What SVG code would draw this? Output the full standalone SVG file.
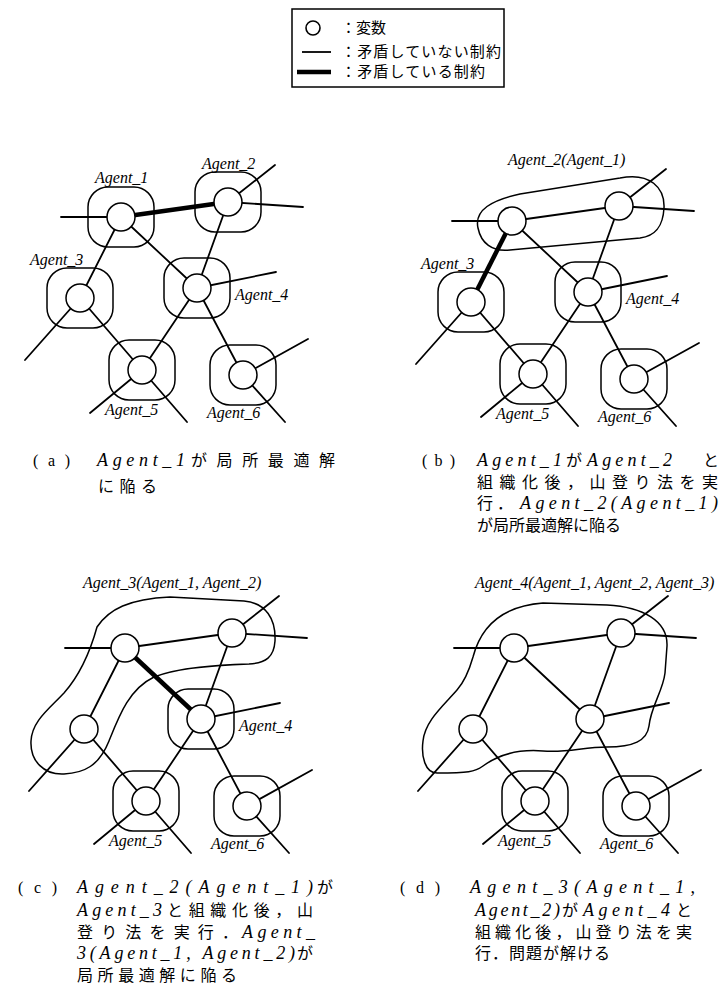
<svg xmlns="http://www.w3.org/2000/svg" width="721" height="1003" viewBox="0 0 721 1003">
<style>
.edge{stroke:#000;stroke-width:1.8;fill:none;stroke-linecap:round}
.conflict{stroke:#000;stroke-width:4.5;fill:none}
.var{fill:#fff;stroke:#000;stroke-width:1.5}
.agent{fill:none;stroke:#000;stroke-width:1.5}
.blob{fill:none;stroke:#000;stroke-width:1.5}
.lbl{font-family:"Liberation Serif",serif;font-style:italic;font-size:16px;fill:#000}
.jp{font-family:"Liberation Serif","Noto Sans CJK JP",sans-serif;font-size:16px;fill:#000}
.lat{font-family:"Liberation Serif",serif;font-style:italic;font-size:18px;fill:#000}
.leg{font-family:"Liberation Serif","Noto Sans CJK JP",sans-serif;font-size:15px;fill:#000}
</style>
<defs>
<rect id="abox" x="-33" y="-30" width="66" height="60" rx="20" ry="20" class="agent"/>
<circle id="vc" r="14" class="var"/>
</defs>
<rect width="721" height="1003" fill="#fff"/>

<g id="legend">
<rect x="292" y="9" width="212" height="78" fill="none" stroke="#000" stroke-width="1.5"/>
<circle cx="313" cy="28" r="7" fill="none" stroke="#000" stroke-width="1.6"/>
<line x1="302" y1="52" x2="331" y2="52" stroke="#000" stroke-width="1.8"/>
<line x1="297" y1="72" x2="331" y2="72" stroke="#000" stroke-width="4.5"/>
<text class="leg" x="341" y="33">：変数</text>
<text class="leg" x="341" y="57" textLength="160" lengthAdjust="spacing">：矛盾していない制約</text>
<text class="leg" x="341" y="77" textLength="144" lengthAdjust="spacing">：矛盾している制約</text>
</g>

<!-- Panel (a) -->
<g id="panel-a">
<g id="a-connectors">
<line class="edge" x1="61" y1="217" x2="121" y2="217"/>
<line class="conflict" x1="121" y1="217" x2="228" y2="202"/>
<line class="edge" x1="228" y1="202" x2="275" y2="165"/>
<line class="edge" x1="228" y1="202" x2="303" y2="207"/>
<line class="edge" x1="121" y1="217" x2="80" y2="298"/>
<line class="edge" x1="121" y1="217" x2="197" y2="288"/>
<line class="edge" x1="228" y1="202" x2="197" y2="288"/>
<line class="edge" x1="197" y1="288" x2="276" y2="272"/>
<line class="edge" x1="80" y1="298" x2="25" y2="360"/>
<line class="edge" x1="80" y1="298" x2="142" y2="370"/>
<line class="edge" x1="197" y1="288" x2="142" y2="370"/>
<line class="edge" x1="197" y1="288" x2="243" y2="375"/>
<line class="edge" x1="142" y1="370" x2="90" y2="413"/>
<line class="edge" x1="142" y1="370" x2="187" y2="422"/>
<line class="edge" x1="243" y1="375" x2="308" y2="339"/>
<line class="edge" x1="243" y1="375" x2="285" y2="422"/>
</g>
<g id="a-agent1"><use href="#abox" x="121" y="217"/><use href="#vc" x="121" y="217"/><text class="lbl" x="95" y="183">Agent_1</text></g>
<g id="a-agent2"><use href="#abox" x="228" y="202"/><use href="#vc" x="228" y="202"/><text class="lbl" x="202" y="169">Agent_2</text></g>
<g id="a-agent3"><use href="#abox" x="80" y="298"/><use href="#vc" x="80" y="298"/><text class="lbl" x="30" y="265">Agent_3</text></g>
<g id="a-agent4"><use href="#abox" x="197" y="288"/><use href="#vc" x="197" y="288"/><text class="lbl" x="235" y="300">Agent_4</text></g>
<g id="a-agent5"><use href="#abox" x="142" y="370"/><use href="#vc" x="142" y="370"/><text class="lbl" x="105" y="415">Agent_5</text></g>
<g id="a-agent6"><use href="#abox" x="243" y="375"/><use href="#vc" x="243" y="375"/><text class="lbl" x="207" y="418">Agent_6</text></g>
</g>

<!-- Panel (b) -->
<g id="panel-b" transform="translate(391,4)">
<g id="b-connectors">
<line class="edge" x1="61" y1="217" x2="121" y2="217"/>
<line class="edge" x1="121" y1="217" x2="228" y2="202"/>
<line class="edge" x1="228" y1="202" x2="275" y2="165"/>
<line class="edge" x1="228" y1="202" x2="303" y2="207"/>
<line class="conflict" x1="121" y1="217" x2="80" y2="298"/>
<line class="edge" x1="121" y1="217" x2="197" y2="288"/>
<line class="edge" x1="228" y1="202" x2="197" y2="288"/>
<line class="edge" x1="197" y1="288" x2="276" y2="272"/>
<line class="edge" x1="80" y1="298" x2="25" y2="360"/>
<line class="edge" x1="80" y1="298" x2="142" y2="370"/>
<line class="edge" x1="197" y1="288" x2="142" y2="370"/>
<line class="edge" x1="197" y1="288" x2="243" y2="375"/>
<line class="edge" x1="142" y1="370" x2="90" y2="413"/>
<line class="edge" x1="142" y1="370" x2="187" y2="422"/>
<line class="edge" x1="243" y1="375" x2="308" y2="339"/>
<line class="edge" x1="243" y1="375" x2="285" y2="422"/>
</g>
<g id="b-agent2">
<path class="blob" d="M87,224 C83,206 101,196 129,190 L229,174 C259,168 274,184 273,204 C272,222 265,232 249,234 L119,246 C101,248 90,239 87,224 Z"/>
<use href="#vc" x="121" y="217"/><use href="#vc" x="228" y="202"/>
<text class="lbl" x="117" y="161">Agent_2(Agent_1)</text>
</g>
<g id="b-agent3"><use href="#abox" x="80" y="298"/><use href="#vc" x="80" y="298"/><text class="lbl" x="30" y="265">Agent_3</text></g>
<g id="b-agent4"><use href="#abox" x="197" y="288"/><use href="#vc" x="197" y="288"/><text class="lbl" x="235" y="300">Agent_4</text></g>
<g id="b-agent5"><use href="#abox" x="142" y="370"/><use href="#vc" x="142" y="370"/><text class="lbl" x="105" y="415">Agent_5</text></g>
<g id="b-agent6"><use href="#abox" x="243" y="375"/><use href="#vc" x="243" y="375"/><text class="lbl" x="207" y="418">Agent_6</text></g>
</g>

<!-- Panel (c) -->
<g id="panel-c" transform="translate(4,431)">
<g id="c-connectors">
<line class="edge" x1="61" y1="217" x2="121" y2="217"/>
<line class="edge" x1="121" y1="217" x2="228" y2="202"/>
<line class="edge" x1="228" y1="202" x2="275" y2="165"/>
<line class="edge" x1="228" y1="202" x2="303" y2="207"/>
<line class="edge" x1="121" y1="217" x2="80" y2="298"/>
<line class="conflict" x1="121" y1="217" x2="197" y2="288"/>
<line class="edge" x1="228" y1="202" x2="197" y2="288"/>
<line class="edge" x1="197" y1="288" x2="276" y2="272"/>
<line class="edge" x1="80" y1="298" x2="25" y2="360"/>
<line class="edge" x1="80" y1="298" x2="142" y2="370"/>
<line class="edge" x1="197" y1="288" x2="142" y2="370"/>
<line class="edge" x1="197" y1="288" x2="243" y2="375"/>
<line class="edge" x1="142" y1="370" x2="90" y2="413"/>
<line class="edge" x1="142" y1="370" x2="187" y2="422"/>
<line class="edge" x1="243" y1="375" x2="308" y2="339"/>
<line class="edge" x1="243" y1="375" x2="285" y2="422"/>
</g>
<g id="c-agent3">
<path class="blob" d="M93,196 C105,178 125,168 166,166 L240,170 C262,172 272,188 271,210 C270,226 262,232 245,233 C215,234 175,236 150,246 C125,258 115,285 105,310 C95,335 80,342 60,343 C40,344 26,330 27,310 C28,290 45,278 60,262 C75,245 85,225 93,196 Z"/>
<use href="#vc" x="121" y="217"/><use href="#vc" x="228" y="202"/><use href="#vc" x="80" y="298"/>
<text class="lbl" x="79" y="157">Agent_3(Agent_1, Agent_2)</text>
</g>
<g id="c-agent4"><use href="#abox" x="197" y="288"/><use href="#vc" x="197" y="288"/><text class="lbl" x="235" y="300">Agent_4</text></g>
<g id="c-agent5"><use href="#abox" x="142" y="370"/><use href="#vc" x="142" y="370"/><text class="lbl" x="105" y="415">Agent_5</text></g>
<g id="c-agent6"><use href="#abox" x="243" y="375"/><use href="#vc" x="243" y="375"/><text class="lbl" x="207" y="418">Agent_6</text></g>
</g>

<!-- Panel (d) -->
<g id="panel-d" transform="translate(393,431)">
<g id="d-connectors">
<line class="edge" x1="61" y1="217" x2="121" y2="217"/>
<line class="edge" x1="121" y1="217" x2="228" y2="202"/>
<line class="edge" x1="228" y1="202" x2="275" y2="165"/>
<line class="edge" x1="228" y1="202" x2="303" y2="207"/>
<line class="edge" x1="121" y1="217" x2="80" y2="298"/>
<line class="edge" x1="121" y1="217" x2="197" y2="288"/>
<line class="edge" x1="228" y1="202" x2="197" y2="288"/>
<line class="edge" x1="197" y1="288" x2="276" y2="272"/>
<line class="edge" x1="80" y1="298" x2="25" y2="360"/>
<line class="edge" x1="80" y1="298" x2="142" y2="370"/>
<line class="edge" x1="197" y1="288" x2="142" y2="370"/>
<line class="edge" x1="197" y1="288" x2="243" y2="375"/>
<line class="edge" x1="142" y1="370" x2="90" y2="413"/>
<line class="edge" x1="142" y1="370" x2="187" y2="422"/>
<line class="edge" x1="243" y1="375" x2="308" y2="339"/>
<line class="edge" x1="243" y1="375" x2="285" y2="422"/>
</g>
<g id="d-agent4">
<path class="blob" d="M80,226 C88,195 110,175 150,172 L214,174 C250,176 275,190 274,215 L272,242 C270,260 258,275 256,295 C254,310 240,316 214,316 C190,316 175,322 150,320 C125,318 105,324 90,335 C82,341 75,342 44,342 C32,342 28,325 30,310 C32,290 50,275 64,259 C72,250 76,240 80,226 Z"/>
<use href="#vc" x="121" y="217"/><use href="#vc" x="228" y="202"/><use href="#vc" x="80" y="298"/><use href="#vc" x="197" y="288"/>
<text class="lbl" x="82" y="157">Agent_4(Agent_1, Agent_2, Agent_3)</text>
</g>
<g id="d-agent5"><use href="#abox" x="142" y="370"/><use href="#vc" x="142" y="370"/><text class="lbl" x="105" y="415">Agent_5</text></g>
<g id="d-agent6"><use href="#abox" x="243" y="375"/><use href="#vc" x="243" y="375"/><text class="lbl" x="207" y="418">Agent_6</text></g>
</g>

<!-- Captions -->
<g id="caption-a">
<text class="jp" x="33" y="466" textLength="37" lengthAdjust="spacing">(a)</text>
<text class="lat" x="97" y="466" textLength="88" lengthAdjust="spacing">Agent_1</text>
<text class="jp" x="191" y="466" textLength="144" lengthAdjust="spacing">が局所最適解</text>
<text class="jp" x="98" y="492" textLength="59" lengthAdjust="spacing">に陥る</text>
</g>
<g id="caption-b">
<text class="jp" x="422" y="466" textLength="33" lengthAdjust="spacing">(b)</text>
<text class="lat" x="477" y="466" textLength="85" lengthAdjust="spacing">Agent_1</text>
<text class="jp" x="566" y="466">が</text>
<text class="lat" x="587" y="466" textLength="85" lengthAdjust="spacing">Agent_2</text>
<text class="jp" x="703" y="466">と</text>
<text class="jp" x="477" y="488" textLength="241" lengthAdjust="spacing">組織化後，山登り法を実</text>
<text class="jp" x="477" y="509" textLength="36" lengthAdjust="spacing">行．</text>
<text class="lat" x="520" y="509" textLength="198" lengthAdjust="spacing">Agent_2(Agent_1)</text>
<text class="jp" x="477" y="531" textLength="144" lengthAdjust="spacing">が局所最適解に陥る</text>
</g>
<g id="caption-c">
<text class="jp" x="18" y="893" textLength="39" lengthAdjust="spacing">(c)</text>
<text class="lat" x="77" y="893" textLength="236" lengthAdjust="spacing">Agent_2(Agent_1)</text>
<text class="jp" x="317" y="893">が</text>
<text class="lat" x="77" y="916" textLength="85" lengthAdjust="spacing">Agent_3</text>
<text class="jp" x="167" y="916" textLength="146" lengthAdjust="spacing">と組織化後，山</text>
<text class="jp" x="77" y="938" textLength="161" lengthAdjust="spacing">登り法を実行．</text>
<text class="lat" x="242" y="938" textLength="73" lengthAdjust="spacing">Agent_</text>
<text class="lat" x="77" y="959" textLength="218" lengthAdjust="spacing">3(Agent_1, Agent_2)</text>
<text class="jp" x="297" y="959">が</text>
<text class="jp" x="77" y="981" textLength="160" lengthAdjust="spacing">局所最適解に陥る</text>
</g>
<g id="caption-d">
<text class="jp" x="400" y="893" textLength="40" lengthAdjust="spacing">(d)</text>
<text class="lat" x="470" y="893" textLength="225" lengthAdjust="spacing">Agent_3(Agent_1,</text>
<text class="lat" x="475" y="916" textLength="85" lengthAdjust="spacing">Agent_2)</text>
<text class="jp" x="562" y="916">が</text>
<text class="lat" x="583" y="916" textLength="87" lengthAdjust="spacing">Agent_4</text>
<text class="jp" x="676" y="916">と</text>
<text class="jp" x="475" y="938" textLength="217" lengthAdjust="spacing">組織化後，山登り法を実</text>
<text class="jp" x="475" y="959" textLength="135" lengthAdjust="spacing">行．問題が解ける</text>
</g>
</svg>
